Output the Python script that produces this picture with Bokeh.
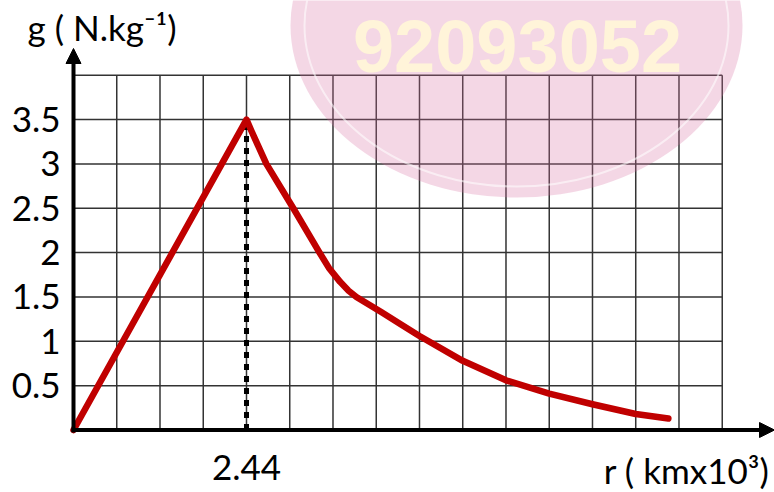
from bokeh.plotting import figure
from bokeh.models import Range1d, Arrow, NormalHead
from bokeh.core.properties import value
from bokeh.embed import file_html
from bokeh.resources import INLINE

# ---------------- data ----------------
r_values = [0.0, 2.44, 2.51, 2.72, 3.10, 3.47, 3.60, 3.76, 3.88, 3.99, 4.34,
            4.62, 4.88, 5.49, 6.10, 6.71, 7.32, 7.93, 8.39]
g_values = [0.0, 3.5, 3.37, 3.0, 2.5, 2.0, 1.83, 1.67, 1.57, 1.5, 1.33,
            1.19, 1.06, 0.78, 0.56, 0.41, 0.29, 0.18, 0.13]
peak_r = 2.44
peak_g = 3.5
y_ticks = [0.5, 1.0, 1.5, 2.0, 2.5, 3.0, 3.5]
y_tick_labels = ["0.5", "1", "1.5", "2", "2.5", "3", "3.5"]
x_ticks = [2.44]
x_tick_labels = ["2.44"]
grid_x = [0.0, 0.61, 1.22, 1.83, 2.44, 3.05, 3.66, 4.27, 4.88, 5.49, 6.10,
          6.71, 7.32, 7.93, 8.54, 9.15]
grid_y = [0.0, 0.5, 1.0, 1.5, 2.0, 2.5, 3.0, 3.5, 4.0]
x_title = "r ( kmx10³)"
y_title = "g ( N.kg⁻¹)"
watermark = "92093052"

# ---------------- layout (pixels) ----------------
W, H = 774, 492
OX, OY = 73.0, 429.5      # px of the origin
PXX, PXY = 70.9, 88.7     # px per data unit


def dx(px):
    return (px - OX) / PXX


def dy(py):
    return (OY - py) / PXY


p = figure(width=W, height=H, x_range=Range1d(dx(0), dx(W)),
           y_range=Range1d(dy(H), dy(0)), output_backend="svg",
           toolbar_location=None, title=None, min_border=0,
           outline_line_color=None, background_fill_color="white",
           border_fill_color="white")
p.axis.visible = False
p.grid.visible = False

FONT = value("Lato")

# grid
gx_top = grid_y[-1]
gy_right = grid_x[-1]
p.segment(x0=grid_x, y0=[0] * len(grid_x), x1=grid_x, y1=[gx_top] * len(grid_x),
          line_color="#333333", line_width=1.5)
p.segment(x0=[0] * len(grid_y), y0=grid_y, x1=[gy_right] * len(grid_y), y1=grid_y,
          line_color="#333333", line_width=1.5)

# watermark
p.ellipse(x=[dx(516)], y=[dy(25)], width=452, height=344,
          width_units="screen", height_units="screen",
          fill_color="#D66FA0", fill_alpha=0.28, line_color=None)
p.ellipse(x=[dx(516)], y=[dy(25)], width=424, height=322,
          width_units="screen", height_units="screen",
          fill_color=None, line_color="white", line_alpha=0.55, line_width=2)
p.text(x=[dx(517)], y=[dy(45)], text=[watermark], text_font=value("Liberation Sans"),
       text_font_style="bold", text_font_size="74px", text_color="#FFF4D9",
       text_align="center", text_baseline="middle")

# dotted marker at peak
p.line([peak_r, peak_r], [0, peak_g], line_color="black", line_width=5,
       line_dash="6 6")

# curve
p.line(r_values, g_values, line_color="#C00000", line_width=6.5,
       line_join="round", line_cap="round")

# axes with arrows
p.add_layout(Arrow(end=NormalHead(size=15, fill_color="black", line_color="black"),
                   x_start=0, y_start=dy(432), x_end=0, y_end=dy(48),
                   line_color="black", line_width=4))
p.add_layout(Arrow(end=NormalHead(size=15, fill_color="black", line_color="black"),
                   x_start=dx(71), y_start=0, x_end=dx(774), y_end=0,
                   line_color="black", line_width=4))

# tick labels
p.text(x=[0] * len(y_ticks), y=y_ticks, text=y_tick_labels, x_offset=-13,
       text_align="right", text_baseline="middle", text_font=FONT,
       text_font_size="35px", text_color="black")
p.text(x=x_ticks, y=[0] * len(x_ticks), text=x_tick_labels, y_offset=37,
       text_align="center", text_baseline="middle", text_font=FONT,
       text_font_size="35px", text_color="black")

# axis titles
p.text(x=[dx(27)], y=[dy(26)], text=[y_title], text_align="left",
       text_baseline="middle", text_font=FONT, text_font_size="35px",
       text_color="black")
p.text(x=[dx(769)], y=[dy(469)], text=[x_title], text_align="right",
       text_baseline="middle", text_font=FONT, text_font_size="35px",
       text_color="black")

open("out.html", "w").write(file_html(p, INLINE))
